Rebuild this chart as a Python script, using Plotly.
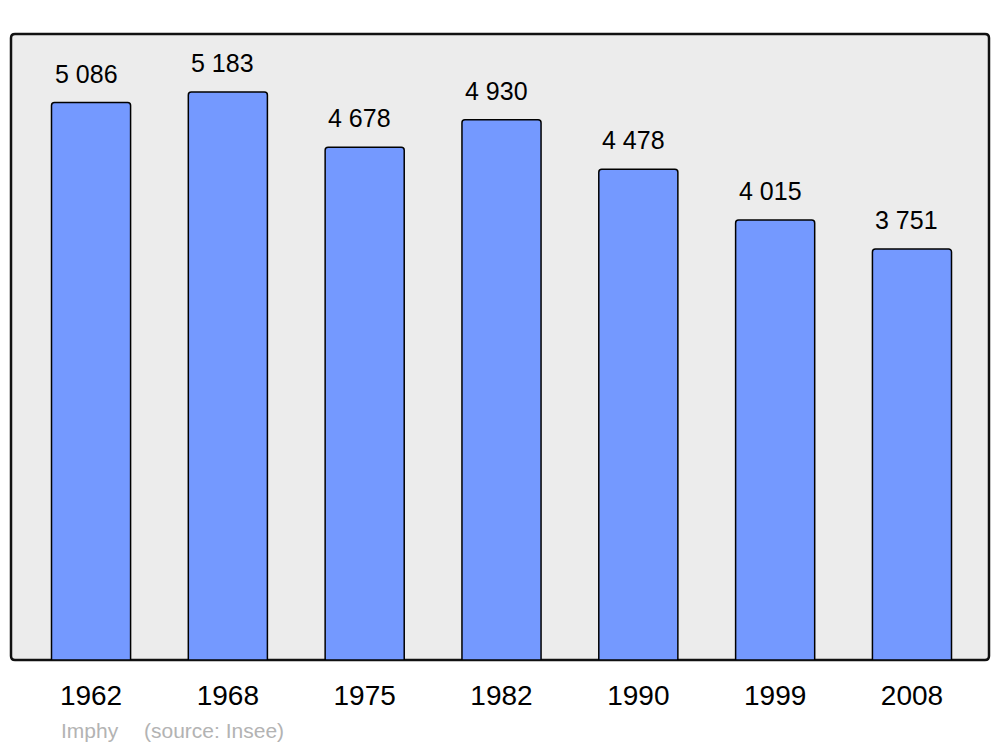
import plotly.graph_objects as go

years = ['1962', '1968', '1975', '1982', '1990', '1999', '2008']
population = [5086, 5183, 4678, 4930, 4478, 4015, 3751]
value_labels = ['5 086', '5 183', '4 678', '4 930', '4 478', '4 015', '3 751']
commune = 'Imphy'
source = '(source: Insee)'

x_pos = list(range(len(years)))

# the page body has an 8px margin, so the margins are shifted to compensate
ML, MT, MR, MB = 3, 26, 19, 95
PW, PH = 1000 - ML - MR, 747 - MT - MB

fig = go.Figure()
fig.add_trace(go.Bar(
    x=x_pos, y=population,
    width=0.578,
    marker=dict(color='#7499ff', line=dict(color='black', width=1.5), cornerradius=3),
    hoverinfo='skip',
))

# value labels above each bar
for i, (v, lab) in enumerate(zip(population, value_labels)):
    fig.add_annotation(x=i, y=v, text=lab, showarrow=False, yanchor='bottom',
                       yshift=13, xshift=-5,
                       font=dict(family='Liberation Sans, Arial', size=25, color='black'))

# rounded frame around the plot area
rx, ry = 4 / PW, 4 / PH
fig.add_shape(type='path', xref='paper', yref='paper', layer='below',
              path=(f'M {rx},0 L {1-rx},0 Q 1,0 1,{ry} L 1,{1-ry} Q 1,1 {1-rx},1 '
                    f'L {rx},1 Q 0,1 0,{1-ry} L 0,{ry} Q 0,0 {rx},0 Z'),
              fillcolor='#ececec', line=dict(color='#111111', width=2.5))

fig.add_annotation(xref='paper', yref='paper', x=(59 - 11) / PW, y=-(730 - 660) / PH,
                   text=commune, showarrow=False, xanchor='left', yanchor='middle',
                   font=dict(family='Liberation Sans, Arial', size=21, color='#b3b3b3'))
fig.add_annotation(xref='paper', yref='paper', x=(142 - 11) / PW, y=-(730 - 660) / PH,
                   text=source, showarrow=False, xanchor='left', yanchor='middle',
                   font=dict(family='Liberation Sans, Arial', size=21, color='#b3b3b3'))

fig.update_layout(
    width=1000, height=747,
    margin=dict(l=ML, r=MR, t=MT, b=MB),
    paper_bgcolor='white', plot_bgcolor='rgba(0,0,0,0)',
    showlegend=False,
    font=dict(family='Liberation Sans, Arial', color='black'),
    xaxis=dict(range=[-0.585, 6.563], tickvals=x_pos, ticktext=years,
               showgrid=False, zeroline=False, ticks='', showline=False,
               tickfont=dict(size=28, color='black'), ticklabelstandoff=16),
    yaxis=dict(range=[0, 5712], visible=False, showgrid=False, zeroline=False),
)

fig.write_html("out.html")
